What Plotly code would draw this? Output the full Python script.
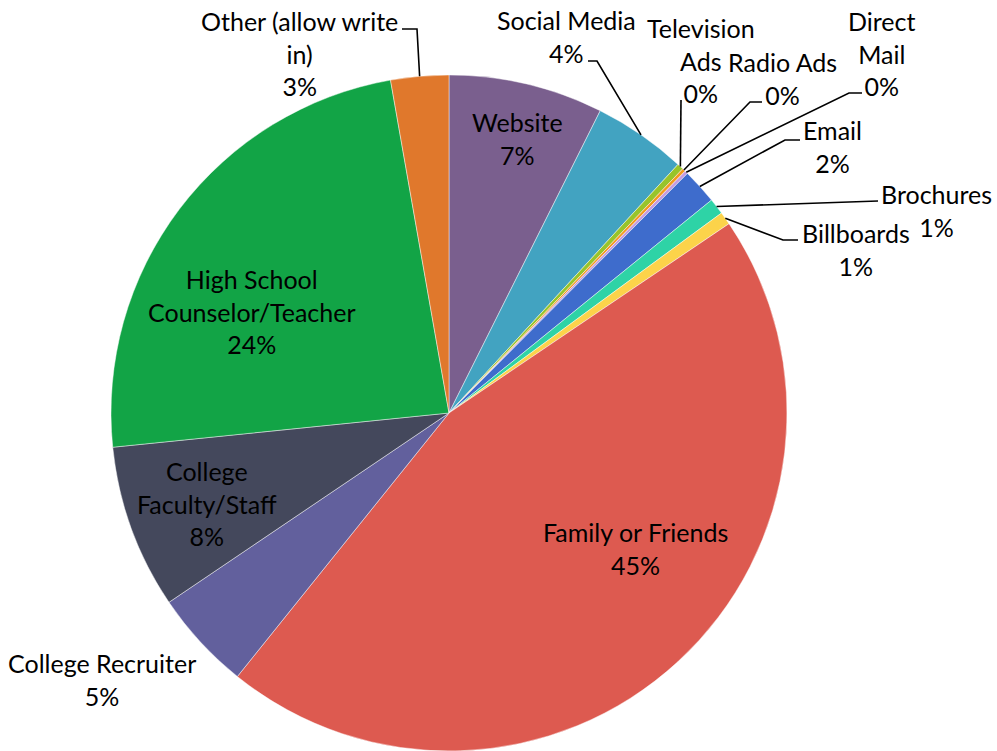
import math
import plotly.graph_objects as go

# Survey: how respondents heard about the college (N = 650)
categories = [
    "Website", "Social Media", "Television Ads", "Radio Ads", "Direct Mail",
    "Email", "Brochures", "Billboards", "Family or Friends",
    "College Recruiter", "College Faculty/Staff",
    "High School Counselor/Teacher", "Other (allow write in)",
]
responses = [48, 29, 2, 1, 1, 11, 5, 4, 294, 31, 51, 155, 18]
colors = [
    "#7A5F8E", "#42A3C1", "#98C42A", "#F39A1E", "#C49BE0",
    "#3E6CCC", "#2ED3A6", "#FCD34A", "#DD5A50",
    "#62609D", "#44485C", "#12A446", "#E0782C",
]

# Wrapped text used for each data label
label_lines = {
    "Television Ads": "Television<br>Ads",
    "Direct Mail": "Direct<br>Mail",
    "College Faculty/Staff": "College<br>Faculty/Staff",
    "High School Counselor/Teacher": "High School<br>Counselor/Teacher",
    "Other (allow write in)": "Other (allow write<br>in)",
}

W, H = 997, 751
CX, CY, R = 449, 413, 338  # pie centre and radius in pixels

# Label centres (pixels) and leader-line elbows (pixels, outer end first)
label_pos = {
    "Website": (517, 139),
    "Social Media": (566, 37),
    "Television Ads": (701, 61),
    "Radio Ads": (782, 79),
    "Direct Mail": (881, 53),
    "Email": (832, 146),
    "Brochures": (936, 210),
    "Billboards": (856, 249),
    "Family or Friends": (635, 548),
    "College Recruiter": (102, 679),
    "College Faculty/Staff": (207, 503),
    "High School Counselor/Teacher": (252, 311),
    "Other (allow write in)": (299, 53),
}
leader_elbows = {
    "Social Media": [(588, 61), (597, 61)],
    "Television Ads": [(681, 100)],
    "Radio Ads": [(762, 102), (750, 102)],
    "Direct Mail": [(862, 93), (849, 93)],
    "Email": [(800, 140), (785, 140)],
    "Brochures": [(878, 201)],
    "Billboards": [(798, 240), (783, 240)],
    "Other (allow write in)": [(402, 29), (417, 29)],
}


def px(x, y):
    return x / W, 1 - y / H


total = sum(responses)

fig = go.Figure(
    go.Pie(
        labels=categories,
        values=responses,
        sort=False,
        direction="clockwise",
        rotation=0,
        textinfo="none",
        marker=dict(colors=colors, line=dict(color="rgba(255,255,255,0.6)", width=0.75)),
        domain=dict(x=[(CX - R) / W, (CX + R) / W], y=[1 - (CY + R) / H, 1 - (CY - R) / H]),
        showlegend=False,
    )
)

annotations = []
shapes = []
cum = 0
for name, v in zip(categories, responses):
    pct = v / total * 100
    mid = (cum + v / 2) / total * 2 * math.pi
    cum += v
    text = f"{label_lines.get(name, name)}<br>{int(pct + 0.5)}%"
    lx, ly = px(*label_pos[name])
    annotations.append(dict(
        x=lx, y=ly, xref="paper", yref="paper", text=text, showarrow=False,
        xanchor="center", yanchor="middle", align="center",
        font=dict(family="Lato", size=25, color="#000000"),
    ))
    if name in leader_elbows:
        edge = (CX + R * math.sin(mid), CY - R * math.cos(mid))
        pts = [px(*p) for p in leader_elbows[name] + [edge]]
        path = "M " + " L ".join(f"{a:.5f},{b:.5f}" for a, b in pts)
        shapes.append(dict(type="path", path=path, xref="paper", yref="paper",
                           line=dict(color="#000000", width=1.6)))

fig.update_layout(
    width=W, height=H,
    margin=dict(l=0, r=0, t=0, b=0),
    paper_bgcolor="white",
    plot_bgcolor="white",
    annotations=annotations,
    shapes=shapes,
)

fig.write_html("out.html")
